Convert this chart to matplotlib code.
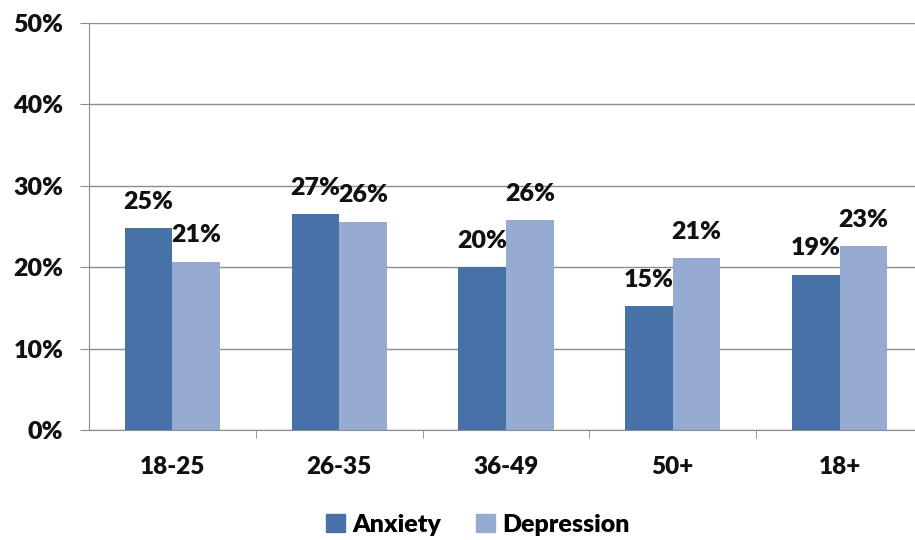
import matplotlib
matplotlib.use("Agg")
import matplotlib.pyplot as plt
import numpy as np
from matplotlib.patches import Patch
from matplotlib.ticker import FixedLocator, PercentFormatter

categories = ["18-25", "26-35", "36-49", "50+", "18+"]
anxiety = [24.8, 26.5, 20.0, 15.2, 19.1]
depression = [20.7, 25.6, 25.8, 21.1, 22.6]
anxiety_labels = ["25%", "27%", "20%", "15%", "19%"]
depression_labels = ["21%", "26%", "26%", "21%", "23%"]
series_names = ["Anxiety", "Depression"]

c_anx = "#4672A8"
c_dep = "#95ABD1"
grid_c = "#8C8C8C"
W = 'heavy'

plt.rcParams['font.family'] = ['Lato', 'DejaVu Sans']
plt.rcParams['font.weight'] = W

fig = plt.figure(figsize=(9.15, 5.4), dpi=100)
ax = fig.add_axes([89/915, 1-430/540, (923-89)/915, (430-23)/540])

x = np.arange(len(categories))
w = 0.285
b1 = ax.bar(x - w/2, anxiety, w, color=c_anx, zorder=3)
b2 = ax.bar(x + w/2, depression, w, color=c_dep, zorder=3)

for bars, labs in ((b1, anxiety_labels), (b2, depression_labels)):
    for r, lab in zip(bars, labs):
        ax.annotate(lab, (r.get_x() + r.get_width()/2, r.get_height()),
                    xytext=(0, 14), textcoords='offset points',
                    ha='center', va='baseline', fontsize=18, fontweight=W,
                    color='#111111', zorder=4)

ax.set_xlim(-0.5, len(categories) - 0.5)
ax.set_ylim(0, 50)
ax.set_yticks([0, 10, 20, 30, 40, 50])
ax.yaxis.set_major_formatter(PercentFormatter(decimals=0))
ax.grid(axis='y', color=grid_c, linewidth=1, zorder=0)
ax.set_axisbelow(True)

ax.set_xticks(x)
ax.set_xticklabels(categories)
ax.xaxis.set_minor_locator(FixedLocator(np.arange(0.5, len(categories) - 0.5, 1)))
ax.tick_params(axis='x', which='major', length=0, pad=19, labelsize=17.5)
ax.tick_params(axis='x', which='minor', length=6, color=grid_c, direction='out')
ax.tick_params(axis='y', length=6.5, color=grid_c, pad=12, labelsize=18)
for lab in ax.get_xticklabels() + ax.get_yticklabels():
    lab.set_fontweight(W)
    lab.set_color('#111111')

for s in ['top', 'right']:
    ax.spines[s].set_visible(False)
ax.spines['left'].set_color(grid_c)
ax.spines['bottom'].set_color(grid_c)

handles = [Patch(color=c_anx, label=series_names[0]), Patch(color=c_dep, label=series_names[1])]
leg = fig.legend(handles=handles, loc='center', bbox_to_anchor=(478/915, 1-525/540), ncol=2,
                 frameon=False, prop={'weight': W, 'size': 18},
                 handlelength=0.75, handleheight=0.75, handletextpad=0.3, columnspacing=1.4)

fig.savefig("out.png", dpi=100)
